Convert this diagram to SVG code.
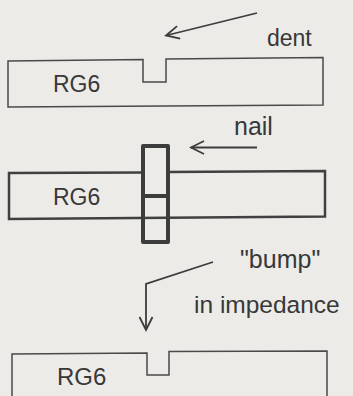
<svg xmlns="http://www.w3.org/2000/svg" width="353" height="396" viewBox="0 0 353 396">
  <defs>
    <style>
      .lbl { font-family: "Liberation Sans", Arial, sans-serif; fill: #383838; }
      .thin { fill: none; stroke: #4a4a4a; stroke-width: 1.5; stroke-linejoin: miter; }
      .mid { fill: none; stroke: #404040; stroke-width: 2.5; }
      .thick { fill: none; stroke: #3c3c3c; stroke-width: 4; stroke-linejoin: round; }
      .conn { fill: none; stroke: #3c3c3c; stroke-width: 1.8; }
    </style>
    <marker id="vhead" viewBox="0 0 16 16" refX="14" refY="8" markerWidth="16" markerHeight="16" markerUnits="userSpaceOnUse" orient="auto">
      <path d="M1,1.5 L14,8 L1,14.5" fill="none" stroke="#3c3c3c" stroke-width="1.8"/>
    </marker>
  </defs>
  <rect width="353" height="396" fill="#ecebe8"/>

  <g id="cable-dent">
    <path class="thin" d="M8,61 L143,59.5 L143,82 L166,82 L166,59 L323,57.5 L323,105 L8,107 Z"/>
    <text class="lbl" x="53" y="92" font-size="23">RG6</text>
  </g>

  <g id="label-dent">
    <text class="lbl" x="267" y="46" font-size="23">dent</text>
  </g>

  <g id="cable-nail">
    <path class="mid" d="M143,172.5 L9,173 L9,219 L325,216.5 L325,171 L168,172"/>
    <text class="lbl" x="53" y="205" font-size="23">RG6</text>
  </g>

  <g id="nail">
    <rect class="thick" x="143" y="146" width="25" height="96"/>
    <line class="thick" x1="143" y1="196" x2="168" y2="196"/>
  </g>

  <g id="label-nail">
    <text class="lbl" x="234" y="135" font-size="25">nail</text>
  </g>

  <g id="label-bump">
    <text class="lbl" x="240" y="268" font-size="25">"bump"</text>
    <text class="lbl" x="194" y="313" font-size="24.5">in impedance</text>
  </g>

  <g id="cable-bump">
    <path class="thin" d="M12,400 L12,354 L147,353 L147,375 L169,375 L169,351.5 L327,351 L327,400"/>
    <text class="lbl" x="57" y="385" font-size="24">RG6</text>
  </g>

  <g id="connectors">
    <line class="conn" x1="257" y1="13" x2="166" y2="35.5" marker-end="url(#vhead)"/>
    <line class="conn" x1="257" y1="147.5" x2="191" y2="147.5" marker-end="url(#vhead)"/>
    <polyline class="conn" points="213,262 146,284 146,330" marker-end="url(#vhead)"/>
  </g>
</svg>
